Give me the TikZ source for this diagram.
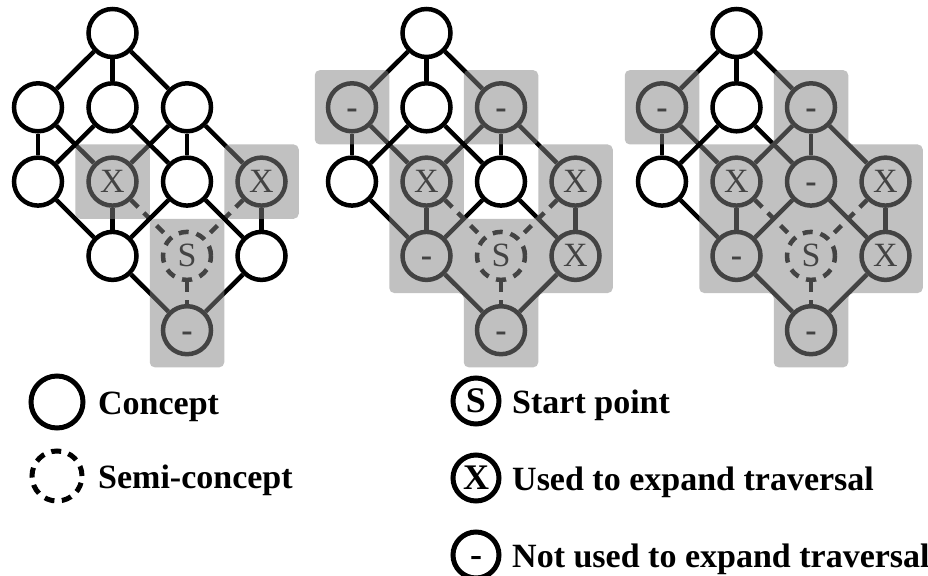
\documentclass[tikz,border=0pt]{standalone}
\usepackage{fontspec}
\setmainfont{Liberation Serif}
\usetikzlibrary{positioning}
\newcommand{\dashlbl}{\textbf{-}}
\tikzset{
    concept/.style = {draw, circle, line width=4.5pt, fill=white,
        minimum size=48pt, inner sep=0pt, text height=22pt, text depth=0pt,
        font=\fontsize{34}{34}\selectfont},
    semi/.style = {concept, dash pattern=on 10pt off 8pt},
    link/.style = {draw, line width=4.5pt},
    semilink/.style = {link, dash pattern=on 10pt off 8pt},
    shade/.style = {fill=black!48, fill opacity=0.51, rounded corners=5pt},
    legsym/.style = {draw, circle, line width=5pt, minimum size=46pt,
        inner sep=0pt, text height=23.5pt, text depth=0pt,
        font=\fontsize{36}{36}\selectfont\bfseries},
    legtext/.style = {anchor=base west, inner sep=0pt,
        font=\fontsize{34}{40}\selectfont\bfseries}
}

\begin{document}
\begin{tikzpicture}[x=1pt, y=-1pt]
    \useasboundingbox (0,0) rectangle (928,575);
    % three lattices: labels of a/c/e/f/g/h/i/j
    \foreach \k/\ox/\la/\lc/\le/\lf/\lg/\lh/\li/\lj in
        {1/38/{}/{}/X/{}/X/{}/{}/\dashlbl,
         2/352/\dashlbl/\dashlbl/X/{}/X/\dashlbl/X/\dashlbl,
         3/662/\dashlbl/\dashlbl/X/\dashlbl/X/\dashlbl/X/\dashlbl} {
    \begin{scope}[shift={(\ox,33)}, x=74.5pt, y=-74.3pt]
        \node [concept] (t\k) at (1,0) {};
        \node [concept] (a\k) at (0,1) {\la};
        \node [concept] (b\k) at (1,1) {};
        \node [concept] (c\k) at (2,1) {\lc};
        \node [concept] (d\k) at (0,2) {};
        \node [concept] (e\k) at (1,2) {\le};
        \node [concept] (f\k) at (2,2) {\lf};
        \node [concept] (g\k) at (3,2) {\lg};
        \node [concept] (h\k) at (1,3) {\lh};
        \node [semi] (s\k) at (2,3) {S};
        \node [concept] (i\k) at (3,3) {\li};
        \node [concept] (j\k) at (2,4) {\lj};
        \foreach \u/\v in {t/a,t/b,t/c,a/d,a/e,b/d,b/f,c/e,c/f,c/g,d/h,e/h,f/h,f/i,g/i,h/j,i/j}
            \draw [link] (\u\k) -- (\v\k);
        \foreach \u/\v in {e/s,g/s,s/j}
            \draw [semilink] (\u\k) -- (\v\k);
        % traversed region
        \ifcase\k\or
            \fill [shade] (0.5,1.5) rectangle (1.5,2.5) (2.5,1.5) rectangle (3.5,2.5)
                (1.5,2.5) rectangle (2.5,4.5);
        \or
            \fill [shade] (-0.5,0.5) rectangle (0.5,1.5) (1.5,0.5) rectangle (2.5,1.5)
                (0.5,1.5) -- (1.5,1.5) -- (1.5,2.5) -- (2.5,2.5) -- (2.5,1.5) -- (3.5,1.5)
                -- (3.5,3.5) -- (2.5,3.5) -- (2.5,4.5) -- (1.5,4.5) -- (1.5,3.5) -- (0.5,3.5) -- cycle;
        \or
            \fill [shade] (-0.5,0.5) rectangle (0.5,1.5)
                (0.5,1.5) -- (1.5,1.5) -- (1.5,0.5) -- (2.5,0.5) -- (2.5,1.5) -- (3.5,1.5)
                -- (3.5,3.5) -- (2.5,3.5) -- (2.5,4.5) -- (1.5,4.5) -- (1.5,3.5) -- (0.5,3.5) -- cycle;
        \fi
    \end{scope}
    }
    % legend
    \node [legsym, minimum size=52pt] (con) at (57,402) {};
    \node [legtext] (conlbl) at (98,414) {Concept};
    \node [legsym, minimum size=50pt, dash pattern=on 10pt off 7.5pt] (semi) at (57,476) {};
    \node [legtext] (semilbl) at (98,488) {Semi-concept};
    \node [legsym] (start) at (476,401) {S};
    \node [legtext] (startlbl) at (512,413) {Start point};
    \node [legsym] (used) at (476,478) {X};
    \node [legtext] (usedlbl) at (512,490) {Used to expand traversal};
    \node [legsym] (notused) at (476,555) {-};
    \node [legtext] (notlbl) at (512,567) {Not used to expand traversal};
\end{tikzpicture}
\end{document}
